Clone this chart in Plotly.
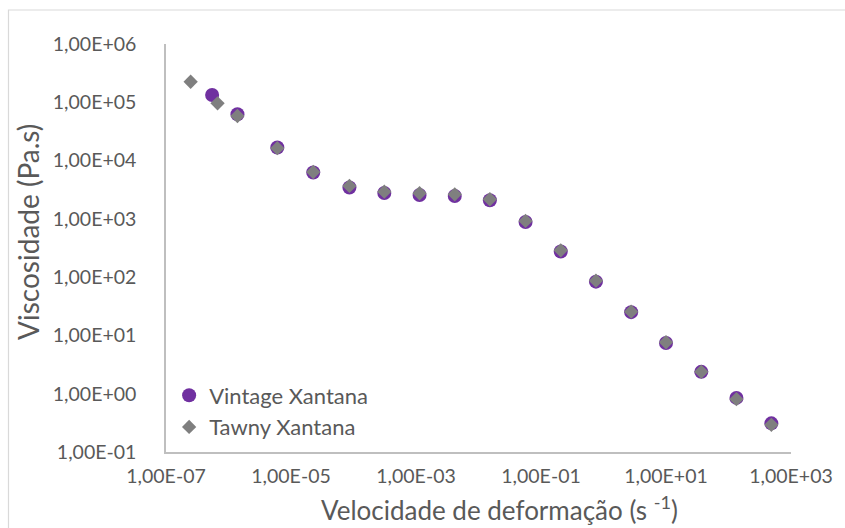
import plotly.graph_objects as go

# Shear rate (1/s) and viscosity (Pa.s) for each sample
shear_vintage = [5.47e-7, 1.39e-6, 6.04e-6, 2.27e-5, 8.61e-5, 3.11e-4, 1.14e-3, 4.17e-3,
                 1.52e-2, 5.66e-2, 0.207, 0.757, 2.77, 10.0, 36.7, 134, 485]
visc_vintage = [1.33e5, 6.22e4, 1.68e4, 6.25e3, 3.46e3, 2.78e3, 2.57e3, 2.47e3,
                2.08e3, 885, 276, 83.7, 25.1, 7.43, 2.37, 0.847, 0.310]

shear_tawny = [2.48e-7, 6.68e-7, 1.39e-6, 6.04e-6, 2.27e-5, 8.61e-5, 3.11e-4, 1.14e-3,
               4.17e-3, 1.52e-2, 5.66e-2, 0.207, 0.757, 2.77, 10.0, 36.7, 134, 485]
visc_tawny = [2.25e5, 9.6e4, 5.82e4, 1.63e4, 6.37e3, 3.67e3, 2.93e3, 2.75e3,
              2.64e3, 2.17e3, 920, 289, 87.1, 25.6, 7.64, 2.37, 0.805, 0.292]

x_tick_vals = [1e-7, 1e-5, 1e-3, 1e-1, 1e1, 1e3]
x_tick_text = ["1,00E-07", "1,00E-05", "1,00E-03", "1,00E-01", "1,00E+01", "1,00E+03"]
y_tick_vals = [1e-1, 1e0, 1e1, 1e2, 1e3, 1e4, 1e5, 1e6]
y_tick_text = ["1,00E-01", "1,00E+00", "1,00E+01", "1,00E+02",
               "1,00E+03", "1,00E+04", "1,00E+05", "1,00E+06"]

x_title = "Velocidade de deformação (s <sup>-1</sup>)"
y_title = "Viscosidade (Pa.s)"

FONT = "Lato, Calibri, sans-serif"
TXT = "#595959"
AXIS = "#BFBFBF"

fig = go.Figure()
fig.add_trace(go.Scatter(
    x=shear_vintage, y=visc_vintage, mode="markers", name="Vintage Xantana",
    marker=dict(symbol="circle", size=14, color="#7030A0"),
))
fig.add_trace(go.Scatter(
    x=shear_tawny, y=visc_tawny, mode="markers", name="Tawny Xantana",
    marker=dict(symbol="diamond", size=11, color="#7F7F7F"),
))

fig.update_layout(
    width=845, height=528,
    margin=dict(l=166, r=52, t=44, b=76),
    paper_bgcolor="white", plot_bgcolor="white",
    font=dict(family=FONT, size=19.5, color=TXT),
    showlegend=True,
    legend=dict(x=0.005, y=0.19, xanchor="left", yanchor="top",
                bgcolor="rgba(0,0,0,0)", font=dict(size=22, color=TXT),
                itemwidth=30, tracegroupgap=0),
    xaxis=dict(type="log", range=[-7, 3], tickvals=x_tick_vals, ticktext=x_tick_text,
               showgrid=False, zeroline=False, showline=True, linecolor=AXIS, linewidth=1.5,
               ticks="", ticklabelstandoff=6),
    yaxis=dict(type="log", range=[-1, 6], tickvals=y_tick_vals, ticktext=y_tick_text,
               showgrid=False, zeroline=False, showline=True, linecolor=AXIS, linewidth=1.5,
               ticks="", ticklabelstandoff=24),
    annotations=[
        dict(text=x_title, xref="paper", yref="paper", x=0.533, y=-0.138,
             xanchor="center", yanchor="middle", showarrow=False,
             font=dict(size=26, color=TXT)),
        dict(text=y_title, xref="paper", yref="paper", x=-0.222, y=0.54,
             xanchor="center", yanchor="middle", textangle=-90, showarrow=False,
             font=dict(size=28, color=TXT)),
    ],
    shapes=[dict(type="rect", xref="paper", yref="paper",
                 x0=-0.252, x1=1.1, y0=-0.2, y1=1.0833,
                 line=dict(color="#D9D9D9", width=1.2), fillcolor="rgba(0,0,0,0)", layer="below")],
)

fig.write_html("out.html")
